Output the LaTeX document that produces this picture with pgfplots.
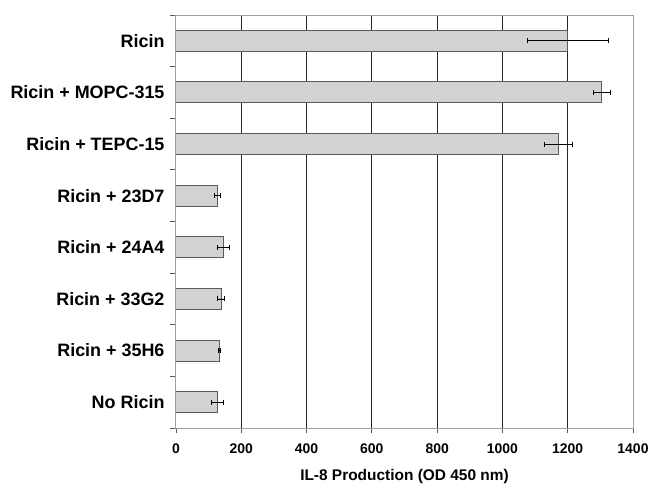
\documentclass[border=0pt]{standalone}
\usepackage{pgfplots}
\pgfplotsset{compat=1.18}
\usepackage{fontspec}
\setmainfont{Liberation Sans}

\definecolor{barfill}{RGB}{210,210,210}
\definecolor{baredge}{RGB}{90,90,90}

\begin{document}
\begin{tikzpicture}
\useasboundingbox (-176bp,-60bp) rectangle (474bp,428bp);
\begin{axis}[
  at={(0,0)}, anchor=south west,
  scale only axis,
  width=457bp, height=413bp,
  xbar,
  bar width=21bp,
  xmin=0, xmax=1400,
  ymin=-0.5, ymax=7.5,
  y dir=reverse,
  xtick={0,200,...,1400},
  ytick={0,...,7},
  xtick pos=bottom, ytick pos=left,
  yticklabels={Ricin, Ricin + MOPC-315, Ricin + TEPC-15, Ricin + 23D7,
    Ricin + 24A4, Ricin + 33G2, Ricin + 35H6, No Ricin},
  minor ytick={-0.5,0.5,...,7.5},
  major y tick style={draw=none},
  minor y tick style={gray!70!black, line width=0.8bp},
  x tick style={gray!70!black, line width=0.8bp},
  tick align=outside,
  major tick length=5bp,
  minor tick length=6bp,
  xmajorgrids,
  major x grid style={black!85, line width=1bp},
  axis line style={gray!75, line width=1bp},
  scaled x ticks=false,
  /pgf/number format/1000 sep={},
  /pgf/number format/assume math mode=true,
  xticklabel style={font=\fontsize{14}{16}\selectfont\bfseries, yshift=-7bp},
  yticklabel style={font=\fontsize{18}{21}\selectfont\bfseries, xshift=-3bp},
  xlabel={IL-8 Production (OD 450 nm)},
  xlabel style={font=\fontsize{15.5}{18}\selectfont\bfseries, yshift=-9bp},
  error bars/x dir=both,
  error bars/x explicit,
  error bars/error bar style={black, line width=0.8bp},
  error bars/error mark options={rotate=90, mark size=2.5bp, black, line width=0.8bp},
]
\addplot[fill=barfill, draw=baredge, line width=1bp]
  coordinates {
  (1200,0) +- (125,0)
  (1305,1) +- (25,0)
  (1172,2) +- (42,0)
  (127,3) +- (8,0)
  (145,4) +- (18,0)
  (138,5) +- (11,0)
  (133,6) +- (4,0)
  (127,7) +- (19,0)
};
\end{axis}
\end{tikzpicture}
\end{document}
